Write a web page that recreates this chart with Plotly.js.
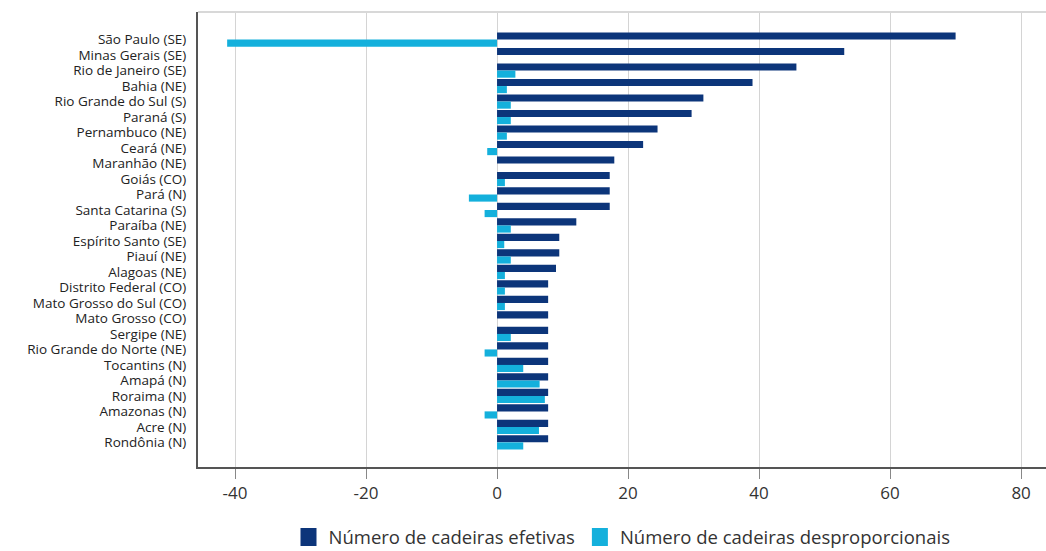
<!DOCTYPE html>
<html><head><meta charset="utf-8">
<script src="https://cdn.plot.ly/plotly-3.0.1.min.js"></script>
<style>html,body{margin:0;padding:0;background:#fff;}#chart{width:1046px;height:551px;}</style>
</head><body><div id="chart"></div>
<script>
const states = ["São Paulo (SE)","Minas Gerais (SE)","Rio de Janeiro (SE)","Bahia (NE)","Rio Grande do Sul (S)","Paraná (S)","Pernambuco (NE)","Ceará (NE)","Maranhão (NE)","Goiás (CO)","Pará (N)","Santa Catarina (S)","Paraíba (NE)","Espírito Santo (SE)","Piauí (NE)","Alagoas (NE)","Distrito Federal (CO)","Mato Grosso do Sul (CO)","Mato Grosso (CO)","Sergipe (NE)","Rio Grande do Norte (NE)","Tocantins (N)","Amapá (N)","Roraima (N)","Amazonas (N)","Acre (N)","Rondônia (N)"];
const efetivas = [70,53,45.7,39,31.5,29.7,24.5,22.3,17.9,17.2,17.2,17.2,12.1,9.5,9.5,9,7.8,7.8,7.8,7.8,7.8,7.8,7.8,7.8,7.8,7.8,7.8];
const desproporcionais = [-41.2,0,2.8,1.5,2.1,2.1,1.5,-1.5,0,1.2,-4.3,-1.9,2.1,1.1,2.1,1.2,1.2,1.2,0,2.1,-1.9,4.0,6.5,7.3,-1.9,6.4,4.0];
const seriesNames = ["Número de cadeiras efetivas","Número de cadeiras desproporcionais"];
const xTickVals = [-40,-20,0,20,40,60,80];
const xTickText = ["-40","-20","0","20","40","60","80"];

const font = "'Open Sans', 'Noto Sans', sans-serif";
const data = [
  {type:"bar", orientation:"h", y:states, x:efetivas, name:seriesNames[0], marker:{color:"#0c357a"}},
  {type:"bar", orientation:"h", y:states, x:desproporcionais, name:seriesNames[1], marker:{color:"#14b0dc"}}
];
const layout = {
  width:1046, height:551,
  margin:{l:198, r:0, t:12, b:77},
  barmode:"group", bargap:0.08, bargroupgap:0,
  paper_bgcolor:"#fff", plot_bgcolor:"#fff",
  font:{family:font, color:"#333"},
  showlegend:true,
  legend:{orientation:"h", x:0.5, xanchor:"center", y:-0.1, yanchor:"top", font:{size:18.5, color:"#333"}, traceorder:"normal"},
  xaxis:{range:[-45.65,83.8], tickmode:"array", tickvals:xTickVals, ticktext:xTickText, showgrid:true, gridcolor:"#d4d4d4", gridwidth:1,
         zeroline:true, zerolinecolor:"#d4d4d4", zerolinewidth:1,
         showline:true, linecolor:"#555", linewidth:2, ticks:"outside", ticklen:10, tickcolor:"#888",
         tickfont:{size:17, color:"#333"}, mirror:false, fixedrange:true},
  yaxis:{type:"category", tickmode:"array", tickvals:states, ticktext:states, range:[27.59,-1.78], showgrid:false, zeroline:false, showline:true, linecolor:"#555", linewidth:2,
         ticks:"", tickfont:{size:13.5, color:"#222"}, ticklabelstandoff:7, fixedrange:true},
  shapes:[{type:"line", xref:"paper", yref:"paper", x0:0, x1:1, y0:1, y1:1, line:{color:"#d8d8d8", width:2}}]
};
Plotly.newPlot("chart", data, layout, {displayModeBar:false, staticPlot:true}).then(function(){
  document.querySelectorAll('.legend .legendpoints path').forEach(function(p){
    p.setAttribute('d','M8,9H-8V-9H8Z');
  });
  var lg = document.querySelector('.legend');
  if (lg) {
    var t = lg.getAttribute('transform') || '';
    var m = t.match(/translate\(\s*([-\d.]+)[ ,]+([-\d.]+)\s*\)/);
    if (m) lg.setAttribute('transform', 'translate(' + m[1] + ',' + (parseFloat(m[2]) + 6) + ')');
  }
});
</script></body></html>
